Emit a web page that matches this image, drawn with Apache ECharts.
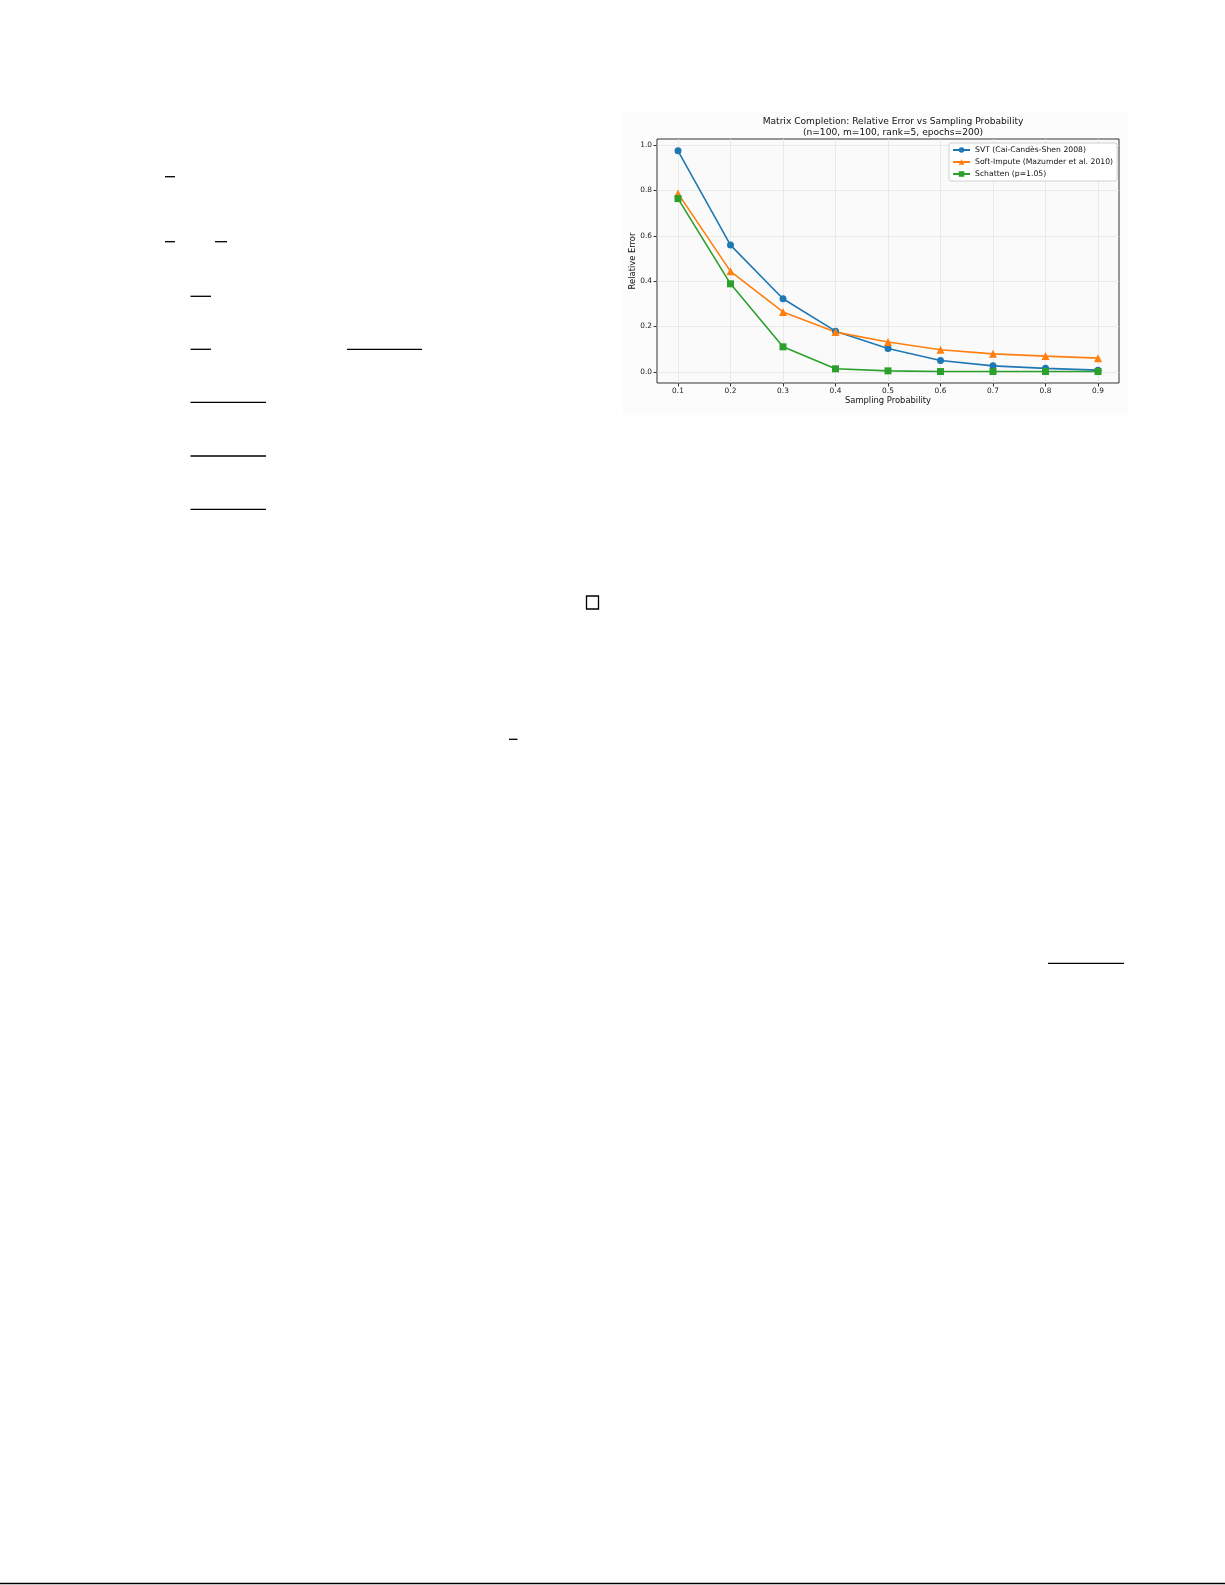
<!DOCTYPE html>
<html>
<head>
<meta charset="utf-8">
<script src="https://cdn.jsdelivr.net/npm/echarts@6/dist/echarts.min.js"></script>
<style>
  html, body { margin: 0; padding: 0; background: #fff; }
  #main { width: 1225px; height: 1585px; }
</style>
</head>
<body>
<div id="main"></div>
<script>
// sampling probabilities on the x axis
const probs = [0.1, 0.2, 0.3, 0.4, 0.5, 0.6, 0.7, 0.8, 0.9];

// relative error per method
const svtErr = [0.975, 0.559, 0.322, 0.179, 0.103, 0.050, 0.026, 0.015, 0.007];
const softImputeErr = [0.787, 0.443, 0.264, 0.175, 0.131, 0.097, 0.079, 0.069, 0.060];
const schattenErr = [0.764, 0.388, 0.110, 0.013, 0.004, 0.001, 0.001, 0.001, 0.001];

const xTicks = [0.1, 0.2, 0.3, 0.4, 0.5, 0.6, 0.7, 0.8, 0.9];
const yTicks = [0.0, 0.2, 0.4, 0.6, 0.8, 1.0];

const seriesNames = [
  'SVT (Cai-Candès-Shen 2008)',
  'Soft-Impute (Mazumder et al. 2010)',
  'Schatten (p=1.05)'
];

const font = 'DejaVu Sans';
const zip = (xs, ys) => xs.map((x, i) => [x, ys[i]]);

// leftover rules from the surrounding page (fraction bars, box, footer line)
function rule(x1, y1, x2, y2) {
  return {
    type: 'line',
    shape: { x1: x1, y1: y1, x2: x2, y2: y2 },
    style: { stroke: '#000', lineWidth: 1.3 },
    silent: true
  };
}

const myChart = echarts.init(document.getElementById('main'));

const option = {
  backgroundColor: '#fff',
  animation: false,
  graphic: [
    {
      type: 'rect',
      z: -10,
      shape: { x: 623, y: 112, width: 505, height: 303 },
      style: { fill: '#fcfcfc' },
      silent: true
    },
    rule(165, 176.7, 175, 176.7),
    rule(165, 241.7, 175, 241.7),
    rule(215, 241.7, 227, 241.7),
    rule(190.5, 296.3, 211, 296.3),
    rule(190.5, 349.3, 211, 349.3),
    rule(347, 349.3, 422, 349.3),
    rule(190.5, 402.3, 266, 402.3),
    rule(190.5, 456, 266, 456),
    rule(190.5, 509.3, 266, 509.3),
    {
      type: 'rect',
      shape: { x: 586.5, y: 596, width: 12, height: 13 },
      style: { fill: 'none', stroke: '#000', lineWidth: 1.3 },
      silent: true
    },
    rule(509, 739.3, 517.5, 739.3),
    rule(1048, 963.3, 1124, 963.3),
    rule(0, 1583.5, 1225, 1583.5)
  ],
  title: {
    text: 'Matrix Completion: Relative Error vs Sampling Probability\n(n=100, m=100, rank=5, epochs=200)',
    left: 888,
    top: 112,
    textAlign: 'center',
    textStyle: {
      fontFamily: font,
      fontSize: 9.1,
      fontWeight: 'normal',
      color: '#111',
      lineHeight: 10.2
    }
  },
  legend: {
    orient: 'vertical',
    left: 949,
    top: 143,
    padding: [3, 4, 3, 3],
    itemWidth: 17,
    itemHeight: 7,
    itemGap: 4,
    backgroundColor: '#fff',
    borderColor: '#d0d0d0',
    borderWidth: 1,
    borderRadius: 2,
    textStyle: { fontFamily: font, fontSize: 7.7, color: '#111' },
    data: seriesNames
  },
  grid: {
    left: 657,
    top: 139,
    width: 462,
    height: 244,
    show: true,
    backgroundColor: '#fafafa',
    borderColor: '#333',
    borderWidth: 1
  },
  xAxis: {
    type: 'value',
    min: 0.06,
    max: 0.94,
    name: 'Sampling Probability',
    nameLocation: 'middle',
    nameGap: 14,
    nameTextStyle: { fontFamily: font, fontSize: 8.4, color: '#111' },
    axisLine: { show: false, onZero: false },
    axisTick: { show: true, length: 3.5, customValues: xTicks, lineStyle: { color: '#333' } },
    axisLabel: {
      customValues: xTicks,
      margin: 5,
      fontFamily: font,
      fontSize: 7.4,
      color: '#222',
      formatter: v => v.toFixed(1)
    },
    splitLine: { show: true, lineStyle: { color: '#e6e6e6', width: 0.8 } }
  },
  yAxis: {
    type: 'value',
    min: -0.0496,
    max: 1.027,
    name: 'Relative Error',
    nameLocation: 'middle',
    nameGap: 18,
    nameTextStyle: { fontFamily: font, fontSize: 8.4, color: '#111' },
    axisLine: { show: false, onZero: false },
    axisTick: { show: true, length: 3.5, customValues: yTicks, lineStyle: { color: '#333' } },
    axisLabel: {
      customValues: yTicks,
      margin: 5,
      fontFamily: font,
      fontSize: 7.4,
      color: '#222',
      formatter: v => v.toFixed(1)
    },
    splitLine: { show: true, lineStyle: { color: '#e6e6e6', width: 0.8 } }
  },
  series: [
    {
      name: seriesNames[0],
      type: 'line',
      symbol: 'circle',
      symbolSize: 7,
      color: '#1f77b4',
      lineStyle: { width: 1.6 },
      data: zip(probs, svtErr)
    },
    {
      name: seriesNames[1],
      type: 'line',
      symbol: 'triangle',
      symbolSize: 8,
      color: '#ff7f0e',
      lineStyle: { width: 1.6 },
      data: zip(probs, softImputeErr)
    },
    {
      name: seriesNames[2],
      type: 'line',
      symbol: 'rect',
      symbolSize: 7,
      color: '#2ca02c',
      lineStyle: { width: 1.6 },
      data: zip(probs, schattenErr)
    }
  ]
};

myChart.setOption(option);
</script>
</body>
</html>
